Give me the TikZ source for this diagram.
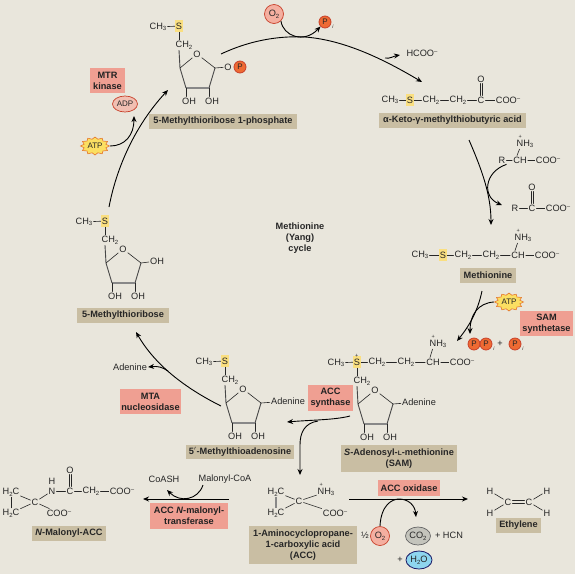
\documentclass[tikz,border=0pt]{standalone}
\usepackage{fontspec}
\setmainfont{Liberation Sans}
\usetikzlibrary{arrows.meta,shapes.geometric,calc}
\definecolor{bgc}{HTML}{E9E6DC}
\definecolor{tanbox}{HTML}{C9BEA3}
\definecolor{pinkbox}{HTML}{EF9F92}
\definecolor{porange}{HTML}{EE6A33}
\definecolor{predge}{HTML}{C8402A}
\definecolor{sulfur}{HTML}{FADF80}
\definecolor{atpy}{HTML}{FBDF62}
\definecolor{atpe}{HTML}{E5762A}
\definecolor{oxy}{HTML}{F4AFA0}
\definecolor{inkc}{HTML}{262626}
\definecolor{waterc}{HTML}{8ED5EE}
\definecolor{co2c}{HTML}{C4C4BC}
\newcommand{\fnt}{\fontsize{9.2}{10}\selectfont}
\newcommand{\fbx}{\fontsize{9.2}{10.8}\selectfont\bfseries}
\newcommand{\sbs}[1]{\raisebox{-1.6pt}{\fontsize{6}{6}\selectfont #1}}
\newcommand{\sps}{\raisebox{2.8pt}{\fontsize{6}{6}\selectfont –}}
\newcommand{\COOm}{COO\sps}
\newcommand{\CHthree}{CH\sbs{3}}
\newcommand{\CHtwo}{CH\sbs{2}}
\newcommand{\NHthree}{\smash{\makebox[0pt][l]{\hspace{1.9pt}\raisebox{7.6pt}{\fontsize{5.5}{6}\selectfont +}}}NH\sbs{3}}
\newcommand{\Splus}{\smash{\makebox[0pt][l]{\hspace{1.1pt}\raisebox{7.6pt}{\fontsize{5.5}{6}\selectfont +}}}S}
\tikzset{
  x=1pt,y=-1pt,
  atom/.style={font=\fnt,text=inkc,inner sep=1pt},
  sulf/.style={font=\fnt,text=inkc,fill=sulfur,inner sep=0pt,minimum width=8pt,minimum height=12pt},
  bond/.style={draw=inkc,line width=.6pt,line cap=round},
  ringb/.style={draw=inkc!85,line width=.9pt},
  ringf/.style={draw=inkc!55,line width=1.5pt},
  tanlab/.style={fill=tanbox,font=\fbx,text=inkc,inner sep=0pt,align=center},
  pinklab/.style={fill=pinkbox,font=\fbx,text=inkc!90!black,inner sep=0pt,align=center},
  pnode/.style={circle,fill=porange,draw=predge,line width=.8pt,minimum size=12pt,inner sep=0pt,font=\fontsize{8}{8}\selectfont,text=inkc},
  subi/.style={inner sep=0pt,font=\fontsize{5}{6}\selectfont\itshape,text=inkc},
  oxnode/.style={circle,fill=oxy,draw=predge,line width=.7pt,minimum size=19pt,inner sep=0pt,font=\fnt,text=inkc},
  atpstar/.style={star,star points=12,star point ratio=1.28,fill=atpy,draw=atpe,line width=.6pt,minimum size=18pt,inner sep=0pt,transform shape,xscale=1.6},
  atplab/.style={font=\fontsize{8}{9}\selectfont,text=inkc,inner sep=0pt},
  rx/.style={draw=black,line width=.9pt,-{Stealth[length=6pt,width=5pt]}},
}
% ribose ring with methylthio arm: #1 prefix, #2 dx, #3 dy, #4 S text
\newcommand{\riboring}[4]{%
\begin{scope}[shift={(#2,#3)}]
  \node[atom] (#1ch3) at (158,27) {\CHthree};
  \node[sulf] (#1s) at (179,26) {#4};
  \node[atom] (#1ch2) at (184,45) {\CHtwo};
  \node[atom] (#1o) at (197,54) {O};
  \coordinate (#1l) at (180,68);
  \coordinate (#1r) at (215,68);
  \coordinate (#1bl) at (186,88);
  \coordinate (#1br) at (209,88);
  \node[atom] (#1oh1) at (189,101) {OH};
  \node[atom] (#1oh2) at (212,101) {OH};
  \draw[bond] (#1ch3) -- (#1s);
  \draw[bond] (#1s.south) -- (#1s.south |- #1ch2.north);
  \draw[ringb] (#1s.south |- #1ch2.south) -- (#1l);
  \draw[bond] (#1l) -- (#1o);
  \draw[bond] (#1o) -- (#1r);
  \draw[ringb] (#1l) -- (#1bl);
  \draw[ringb] (#1r) -- (#1br);
  \draw[ringf] (#1bl) -- (#1br);
  \draw[bond] (#1bl) -- (#1bl |- #1oh1.north);
  \draw[bond] (#1br) -- (#1br |- #1oh2.north);
\end{scope}}
\begin{document}
\begin{tikzpicture}
\useasboundingbox (0,0) rectangle (575,574);
\fill[bgc] (0,0) rectangle (575,574);

% ---- labels
\node[tanlab,minimum width=148pt,minimum height=15pt] (lMTRP) at (223,121.5) {5-Methylthioribose 1-phosphate};
\node[tanlab,minimum width=147pt,minimum height=15pt] (lKeto) at (452.5,120.5) {α-Keto-γ-methylthiobutyric acid};
\node[tanlab,minimum width=56pt,minimum height=15pt] (lMet) at (488,275.5) {Methionine};
\node[tanlab,minimum width=116pt,minimum height=27pt] (lSAM) at (399,458.5) {\textit{S}-Adenosyl-{\fontsize{6.5}{7}\selectfont L}-methionine\\(SAM)};
\node[tanlab,minimum width=92pt,minimum height=15pt] (lMTR) at (123,315.5) {5-Methylthioribose};
\node[tanlab,minimum width=108pt,minimum height=14pt] (lMTA) at (240,452) {5$'$-Methylthioadenosine};
\node[tanlab,minimum width=74pt,minimum height=15pt] (lMal) at (69,533.5) {\textit{N}-Malonyl-ACC};
\node[tanlab,minimum width=108pt,minimum height=38pt] (lACC) at (303,545) {1-Aminocyclopropane-\\1-carboxylic acid\\(ACC)};
\node[tanlab,minimum width=45pt,minimum height=15pt] (lEth) at (518.5,525.5) {Ethylene};
\node[pinklab,minimum width=35pt,minimum height=25pt] (eMTRK) at (107.5,80.5) {MTR\\kinase};
\node[pinklab,minimum width=53pt,minimum height=25pt] (eSAMS) at (546.5,323.5) {SAM\\synthetase};
\node[pinklab,minimum width=45pt,minimum height=26pt] (eACCS) at (330.5,398) {ACC\\synthase};
\node[pinklab,minimum width=61pt,minimum height=25pt] (eMTAN) at (150.5,401.5) {MTA\\nucleosidase};
\node[pinklab,minimum width=78pt,minimum height=26pt] (eNMT) at (189,516) {ACC \textit{N}-malonyl-\\transferase};
\node[pinklab,minimum width=62pt,minimum height=16pt] (eACCO) at (409,488) {ACC oxidase};
\node[font=\fbx,text=inkc,align=center,inner sep=0pt] (ccl) at (300,238) {Methionine\\(Yang)\\cycle};

% ---- rings
\riboring{a}{0}{0}{S}
\node[atom] (aO2) at (228,67) {O};
\node[pnode] (aP) at (240,67) {P};
\draw[bond] (ar) -- (aO2);
\riboring{b}{-74}{195}{S}
\node[atom] (bOH) at (157,261) {OH};
\draw[bond] (br) -- (bOH);
\riboring{c}{46}{335}{S}
\node[atom] (cAd) at (288,401) {Adenine};
\draw[bond] (cr) -- (cAd);
\riboring{d}{178}{336}{\Splus}
\node[atom] (dAd) at (419,402) {Adenine};
\draw[bond] (dr) -- (dAd);

% ---- keto acid
\node[atom] (k1) at (390,100) {\CHthree};
\node[sulf] (k2) at (410,100) {S};
\node[atom] (k3) at (431,100) {\CHtwo};
\node[atom] (k4) at (458,100) {\CHtwo};
\node[atom] (k5) at (481,100) {C};
\node[atom] (k6) at (508,100) {\COOm};
\node[atom] (k7) at (481,79) {O};
\draw[bond] (k1)--(k2); \draw[bond] (k2)--(k3); \draw[bond] (k3)--(k4); \draw[bond] (k4)--(k5); \draw[bond] (k5)--(k6);
\draw[bond] ([xshift=-1.2pt]k5.north) -- ([xshift=-1.2pt]k7.south);
\draw[bond] ([xshift=1.2pt]k5.north) -- ([xshift=1.2pt]k7.south);

% ---- amino acid / keto acid
\node[atom] (r1) at (502,160) {R};
\node[atom] (r2) at (520,160) {CH};
\node[atom] (r3) at (548,160) {\COOm};
\node[atom] (r4) at (525,144) {\NHthree};
\draw[bond] (r1)--(r2); \draw[bond] (r2)--(r3);
\draw[bond] ([xshift=-3pt]r2.north) -- ([xshift=-5.5pt]r4.south);
\node[atom] (q1) at (515,208) {R};
\node[atom] (q2) at (532,208) {C};
\node[atom] (q3) at (558,208) {\COOm};
\node[atom] (q4) at (532,187) {O};
\draw[bond] (q1)--(q2); \draw[bond] (q2)--(q3);
\draw[bond] ([xshift=-1.2pt]q2.north) -- ([xshift=-1.2pt]q4.south);
\draw[bond] ([xshift=1.2pt]q2.north) -- ([xshift=1.2pt]q4.south);

% ---- methionine
\node[atom] (m1) at (420,255) {\CHthree};
\node[sulf] (m2) at (443,255) {S};
\node[atom] (m3) at (463,255) {\CHtwo};
\node[atom] (m4) at (491,255) {\CHtwo};
\node[atom] (m5) at (518,255) {CH};
\node[atom] (m6) at (547,255) {\COOm};
\node[atom] (m7) at (523,238) {\NHthree};
\draw[bond] (m1)--(m2); \draw[bond] (m2)--(m3); \draw[bond] (m3)--(m4); \draw[bond] (m4)--(m5); \draw[bond] (m5)--(m6);
\draw[bond] ([xshift=-3pt]m5.north) -- ([xshift=-5.5pt]m7.south);

% ---- SAM chain
\node[atom] (s3) at (377,362) {\CHtwo};
\node[atom] (s4) at (406,362) {\CHtwo};
\node[atom] (s5) at (433,362) {CH};
\node[atom] (s6) at (462,362) {\COOm};
\node[atom] (s7) at (438,344) {\NHthree};
\draw[bond] (ds)--(s3); \draw[bond] (s3)--(s4); \draw[bond] (s4)--(s5); \draw[bond] (s5)--(s6);
\draw[bond] ([xshift=-3pt]s5.north) -- ([xshift=-5.5pt]s7.south);

% ---- ACC
\node[atom] (A1) at (276,492) {H\sbs{2}C};
\node[atom] (A2) at (276,513) {H\sbs{2}C};
\node[atom] (A3) at (299,501) {C};
\node[atom] (A4) at (326,492) {\NHthree};
\node[atom] (A5) at (335,513) {\COOm};
\draw[bond] (A1)--(A3); \draw[bond] (A2)--(A3); \draw[bond] (A3)--(A4); \draw[bond] (A3)--(A5);
\draw[ringf] (A1)--(A2);

% ---- N-malonyl-ACC
\node[atom] (N1) at (11,492) {H\sbs{2}C};
\node[atom] (N2) at (11,513) {H\sbs{2}C};
\node[atom] (N3) at (35,502) {C};
\node[atom] (N4) at (52,491) {N};
\node[atom] (N8) at (52,481) {H};
\node[atom] (N5) at (70,491) {C};
\node[atom] (N6) at (91,491) {\CHtwo};
\node[atom] (N7) at (122,491) {\COOm};
\node[atom] (N9) at (70,470) {O};
\node[atom] (N10) at (59,513) {\COOm};
\draw[bond] (N1)--(N3); \draw[bond] (N2)--(N3); \draw[bond] (N1)--(N2); \draw[bond] (N3)--(N4); \draw[bond] (N4)--(N5); \draw[bond] (N5)--(N6); \draw[bond] (N6)--(N7); \draw[bond] (N3)--(N10);
\draw[bond] ([xshift=-1.2pt]N5.north) -- ([xshift=-1.2pt]N9.south);
\draw[bond] ([xshift=1.2pt]N5.north) -- ([xshift=1.2pt]N9.south);

% ---- ethylene
\node[atom] (E1) at (490,491) {H};
\node[atom] (E2) at (490,513) {H};
\node[atom] (E3) at (508,502) {C};
\node[atom] (E4) at (529,502) {C};
\node[atom] (E5) at (547,491) {H};
\node[atom] (E6) at (547,513) {H};
\draw[bond] (E1)--(E3); \draw[bond] (E2)--(E3); \draw[bond] (E4)--(E5); \draw[bond] (E4)--(E6);
\draw[bond,line width=.8pt] ([yshift=1.2pt]E3.east)--([yshift=1.2pt]E4.west);
\draw[bond,line width=.8pt] ([yshift=-1.2pt]E3.east)--([yshift=-1.2pt]E4.west);

% ---- cofactors
\node[oxnode] (ox1) at (274,14) {O\sbs{2}};
\node[pnode] (pi1) at (325,22) {P};
\node[subi] (pi1i) at (333,27) {i};
\node[atom] (hcoo) at (422,53) {HCOO\sps};
\node[atom,text=inkc] (aden) at (130,367) {Adenine};
\node[ellipse,fill=oxy!70!bgc,draw=predge,line width=.7pt,minimum width=25pt,minimum height=16pt,inner sep=0pt,font=\fontsize{8}{8}\selectfont,text=inkc] (adp) at (125,104) {ADP};
\node[atpstar] (st1) at (95,146) {};
\node[atplab] (atp1) at (95,146) {ATP};
\node[atpstar] (st2) at (509,302) {};
\node[atplab] (atp2) at (509,302) {ATP};
\node[pnode] (pp1) at (474,344) {P};
\node[pnode] (pp2) at (486,344) {P};
\node[subi] (pp2i) at (494,349) {i};
\node[atom] (pl1) at (500,344) {+};
\node[pnode] (pp3) at (515,344) {P};
\node[subi] (pp3i) at (523,349) {i};
\node[atom] (coash) at (164,479) {CoASH};
\node[atom] (mcoa) at (225,479) {Malonyl-CoA};
\node[atom] (half) at (365,535) {½};
\node[oxnode] (ox2) at (380,536) {O\sbs{2}};
\node[ellipse,fill=co2c,draw=inkc!70,line width=.7pt,minimum width=25pt,minimum height=18pt,inner sep=0pt,font=\fnt,text=inkc] (co2) at (418,536) {CO\sbs{2}};
\node[atom] (hcn) at (449,535) {+ HCN};
\node[atom] (pl2) at (400,560) {+};
\node[ellipse,fill=waterc,draw=inkc!70!blue,line width=.8pt,minimum width=26pt,minimum height=18pt,inner sep=0pt,font=\fnt,text=inkc] (h2o) at (419,560) {H\sbs{2}O};

% ---- free ends of connectors
\coordinate (c1) at (221,54);
\coordinate (c2) at (305,37);
\coordinate (c3) at (422,82);
\coordinate (c4) at (385,58);
\coordinate (c4b) at (400,55);
\coordinate (c5) at (469,140);
\coordinate (c6) at (491,225);
\coordinate (c7) at (482,291);
\coordinate (c8) at (457,341);
\coordinate (c9) at (350,416);
\coordinate (c10) at (287,422);
\coordinate (c11) at (318,421);
\coordinate (c12) at (300,475);
\coordinate (c13) at (221,406);
\coordinate (c14) at (136,332);
\coordinate (c15) at (168,371);
\coordinate (c16) at (109,207);
\coordinate (c17) at (168,90);
\coordinate (c18) at (229,499);
\coordinate (c19) at (143,499);
\coordinate (c20) at (349,499);
\coordinate (c21) at (468,499);
\coordinate (c22) at (416,517);
\coordinate (c23) at (399,499);
\coordinate (c24) at (134,116);
\coordinate (c25) at (470,334);
\coordinate (c26) at (502,205);
\coordinate (c27) at (203,485);
\coordinate (c28) at (167,490);

% ---- reaction arrows
\draw[rx] (c1) .. controls (255,38) and (285,36) .. (c2) .. controls (345,40) and (385,60) .. (c3);
\draw[rx] (ox1.south east) .. controls (283,36) and (304,44) .. (pi1.south west);
\draw[rx] (c4) .. controls (390,59) and (394,56) .. (c4b);
\draw[rx] (c5) .. controls (482,170) and (491,195) .. (c6);
\draw[rx] (r1.south east) .. controls (484,172) and (482,197) .. (c26);
\draw[rx] (c7) .. controls (478,310) and (470,325) .. (c8);
\draw[rx] (st2.west) .. controls (478,303) and (470,315) .. (c25);
\draw[rx] (c9) .. controls (335,420) and (310,420) .. (c10);
\draw[rx] (c11) .. controls (305,423) and (300,432) .. (300,445) -- (c12);
\draw[rx] (c13) .. controls (185,388) and (155,365) .. (c14);
\draw[rx] (c15) .. controls (162,367) and (158,366) .. (aden.east);
\draw[rx] (c16) .. controls (118,160) and (140,120) .. (c17);
\draw[rx] (st1.east) .. controls (125,146) and (134,135) .. (c24);
\draw[rx] (c18) -- (c19);
\draw[rx] (c27) .. controls (198,500) and (180,503) .. (c28);
\draw[rx] (c20) -- (c21);
\draw[rx] (ox2.north) .. controls (381,505) and (392,499) .. (c23) .. controls (408,499) and (415,505) .. (c22);
\end{tikzpicture}
\end{document}
